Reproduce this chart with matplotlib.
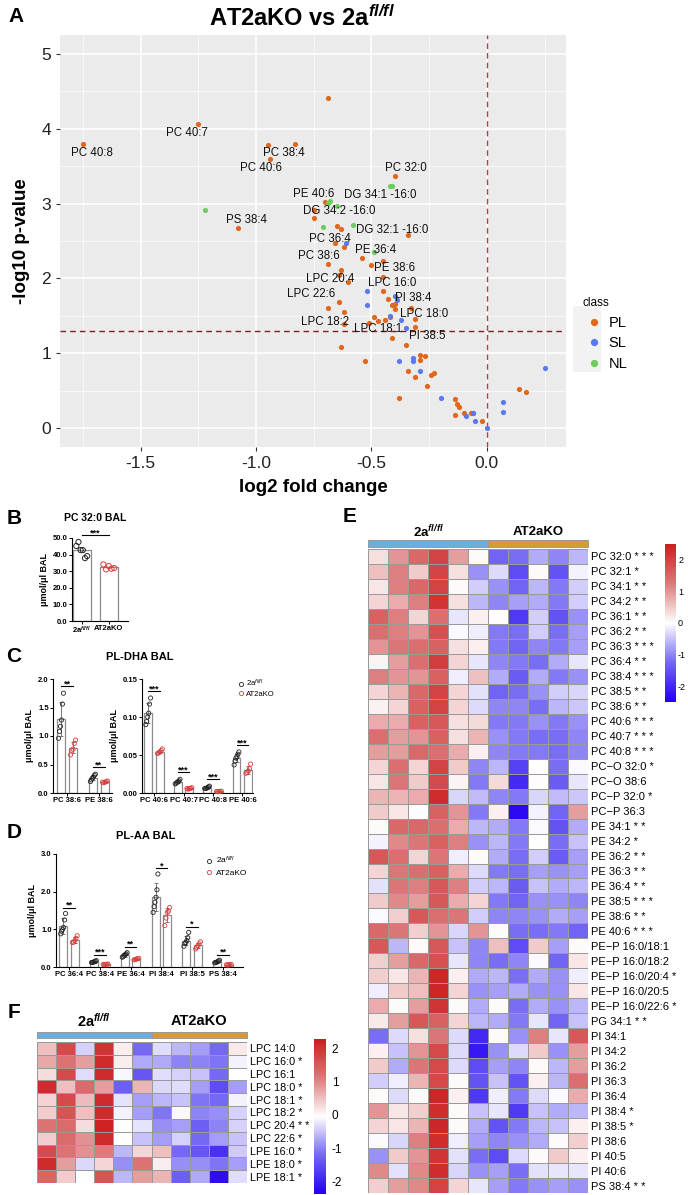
import numpy as np
import matplotlib
matplotlib.use('Agg')
import matplotlib.pyplot as plt
from matplotlib.colors import LinearSegmentedColormap, ListedColormap
from matplotlib.lines import Line2D
from matplotlib.patches import Rectangle

plt.rcParams['font.family'] = ['Liberation Sans', 'DejaVu Sans']
plt.rcParams['mathtext.fontset'] = 'custom'
plt.rcParams['mathtext.rm'] = 'Liberation Sans'
plt.rcParams['mathtext.it'] = 'Liberation Sans:italic'
plt.rcParams['mathtext.bf'] = 'Liberation Sans:bold'
plt.rcParams['mathtext.bfit'] = 'Liberation Sans:italic:bold'
plt.rcParams['axes.unicode_minus'] = False

# ---------------- volcano data (A) ----------------
pl_fc = [-0.69, -1.25, -1.75, -0.95, -0.83, -0.94, -0.40, -1.08, -0.70, -0.75,
         -0.75, -0.65, -0.63, -0.34, -0.66, -0.62, -0.54, -0.45, -0.69, -0.50,
         -0.63, -0.45, -0.64, -0.60, -0.45, -0.43, -0.64, -0.41, -0.40, -0.40,
         -0.33, -0.69, -0.62, -0.49, -0.42, -0.44, -0.47, -0.31, -0.31, -0.62,
         -0.51, -0.41, -0.35, -0.63, -0.53, -0.29, -0.27, -0.29, -0.34, -0.23,
         -0.24, -0.31, -0.26, -0.38, 0.14, 0.17, -0.14, -0.13, -0.12, -0.10,
         -0.14, -0.07, -0.06, -0.02]
pl_p = [4.41, 4.06, 3.79, 3.78, 3.80, 3.60, 3.37, 2.67, 3.02, 2.92,
        2.81, 2.70, 2.66, 2.58, 2.47, 2.42, 2.27, 2.23, 2.19, 2.18,
        2.11, 2.02, 2.05, 1.95, 1.83, 1.73, 1.69, 1.65, 1.66, 1.59,
        1.60, 1.60, 1.55, 1.48, 1.49, 1.45, 1.43, 1.46, 1.35, 1.39,
        1.40, 1.20, 1.11, 1.08, 0.90, 0.98, 0.97, 0.91, 0.76, 0.74,
        0.71, 0.68, 0.57, 0.40, 0.53, 0.48, 0.39, 0.32, 0.29, 0.20,
        0.18, 0.21, 0.21, 0.10]
sl_fc = [-0.61, -0.52, -0.52, -0.40, -0.39, -0.42, -0.37, -0.35, -0.38, -0.32,
         -0.32, -0.29, -0.20, 0.07, 0.07, -0.09, -0.06, -0.05, 0.00, 0.25]
sl_p = [2.47, 1.83, 1.64, 1.76, 1.71, 1.50, 1.45, 1.34, 0.90, 0.94,
        0.90, 0.76, 0.40, 0.35, 0.22, 0.16, 0.20, 0.10, 0.00, 0.81]
nl_fc = [-1.22, -0.69, -0.68, -0.65, -0.42, -0.41, -0.71, -0.58, -0.49]
nl_p = [2.91, 3.01, 3.03, 2.97, 3.23, 3.24, 2.69, 2.72, 2.35]

volcano_labels = ['PC 40:7', 'PC 40:8', 'PC 38:4', 'PC 40:6', 'PC 32:0', 'PE 40:6',
                  'DG 34:1 -16:0', 'DG 34:2 -16:0', 'PS 38:4', 'DG 32:1 -16:0',
                  'PC 36:4', 'PE 36:4', 'PC 38:6', 'PE 38:6', 'LPC 20:4', 'LPC 16:0',
                  'LPC 22:6', 'PI 38:4', 'LPC 18:0', 'LPC 18:2', 'LPC 18:1', 'PI 38:5']
label_x = [-1.30, -1.71, -0.88, -0.98, -0.35, -0.75, -0.46, -0.64, -1.04, -0.41,
           -0.68, -0.48, -0.73, -0.40, -0.68, -0.41, -0.76, -0.32, -0.27, -0.70,
           -0.47, -0.26]
label_y = [3.94, 3.67, 3.68, 3.48, 3.48, 3.13, 3.11, 2.90, 2.78, 2.65,
           2.53, 2.38, 2.30, 2.14, 1.99, 1.94, 1.79, 1.74, 1.53, 1.42,
           1.33, 1.23]

# ---------------- bar data (B, C, D) ----------------
pc320_wt = [45.2, 47.6, 42.7, 42.7, 37.9, 39.1]
pc320_ko = [34.1, 31.1, 33.1, 31.5, 31.9]

dha1_names = ['PC 38:6', 'PE 38:6']
dha1_wt = [[1.75, 1.56, 1.28, 1.17, 1.08, 0.96], [0.33, 0.31, 0.28, 0.26, 0.23, 0.20]]
dha1_ko = [[0.93, 0.87, 0.77, 0.75, 0.67], [0.21, 0.20, 0.19, 0.18, 0.19]]
dha1_sig = ['**', '**']

dha2_names = ['PC 40:6', 'PC 40:7', 'PC 40:8', 'PE 40:6']
dha2_wt = [[0.125, 0.117, 0.105, 0.100, 0.094, 0.090],
           [0.018, 0.016, 0.015, 0.014, 0.013, 0.012],
           [0.009, 0.008, 0.007, 0.0065, 0.006, 0.006],
           [0.054, 0.051, 0.048, 0.046, 0.042, 0.037]]
dha2_ko = [[0.058, 0.056, 0.054, 0.053, 0.052],
           [0.007, 0.006, 0.006, 0.005, 0.006],
           [0.0025, 0.002, 0.002, 0.0018, 0.002],
           [0.038, 0.032, 0.029, 0.027, 0.026]]
dha2_sig = ['***', '***', '***', '***']

aa_names = ['PC 36:4', 'PC 38:4', 'PE 36:4', 'PI 38:4', 'PI 38:5', 'PS 38:4']
aa_wt = [[1.42, 1.25, 1.05, 1.00, 0.95, 0.88], [0.17, 0.15, 0.14, 0.13, 0.12, 0.12],
         [0.38, 0.35, 0.33, 0.31, 0.28, 0.26], [2.47, 2.05, 1.85, 1.72, 1.60, 1.45],
         [0.92, 0.78, 0.70, 0.65, 0.62, 0.55], [0.18, 0.16, 0.14, 0.13, 0.12, 0.11]]
aa_ko = [[0.83, 0.76, 0.70, 0.66, 0.65], [0.08, 0.07, 0.07, 0.06, 0.07],
         [0.23, 0.22, 0.21, 0.20, 0.19], [1.58, 1.48, 1.45, 1.30, 1.10],
         [0.67, 0.62, 0.57, 0.52, 0.48], [0.07, 0.06, 0.06, 0.05, 0.06]]
aa_sig = ['**', '***', '**', '*', '*', '**']

# ---------------- heatmap data (E, F) ----------------
e_rows = ['PC 32:0 * * *', 'PC 32:1 *', 'PC 34:1 * *', 'PC 34:2 * *', 'PC 36:1 * *',
          'PC 36:2 * *', 'PC 36:3 * * *', 'PC 36:4 * *', 'PC 38:4 * * *', 'PC 38:5 * *',
          'PC 38:6 * *', 'PC 40:6 * * *', 'PC 40:7 * * *', 'PC 40:8 * * *', 'PC\u2212O 32:0 *',
          'PC\u2212O 38:6', 'PC\u2212P 32:0 *', 'PC\u2212P 36:3', 'PE 34:1 * *', 'PE 34:2 *',
          'PE 36:2 * *', 'PE 36:3 * *', 'PE 36:4 * *', 'PE 38:5 * * *', 'PE 38:6 * *',
          'PE 40:6 * * *', 'PE\u2212P 16:0/18:1', 'PE\u2212P 16:0/18:2', 'PE\u2212P 16:0/20:4 *',
          'PE\u2212P 16:0/20:5', 'PE\u2212P 16:0/22:6 *', 'PG 34:1 * *', 'PI 34:1', 'PI 34:2',
          'PI 36:2', 'PI 36:3', 'PI 36:4', 'PI 38:4 *', 'PI 38:5 *', 'PI 38:6', 'PI 40:5',
          'PI 40:6', 'PS 38:4 * *']
e_vals = [
    [0.3, 1.0, 1.5, 2.0, 0.9, 0.05, -1.3, -1.2, -0.7, -1.0, -0.6],
    [0.6, 1.2, 0.5, 2.0, 0.3, -0.9, -0.3, -1.6, 0.05, -1.5, -0.1],
    [0.25, 1.2, 1.5, 2.0, 0.05, -0.4, -0.9, -1.3, -0.6, -1.1, -0.4],
    [0.4, 0.8, 1.2, 2.2, 0.3, -0.6, -1.0, -0.8, -0.7, -1.1, -0.4],
    [1.6, 1.2, 0.4, 1.4, -0.2, 0.15, 0.02, -1.8, -0.4, -1.5, -0.9],
    [1.4, 1.2, 1.0, 1.8, -0.05, -0.15, -1.1, -1.2, -0.4, -1.2, -0.8],
    [1.0, 1.3, 1.4, 1.6, 0.3, 0.15, -1.1, -1.3, -1.0, -1.1, -0.8],
    [0.1, 0.9, 1.4, 2.1, 0.4, -0.2, -1.0, -1.1, -1.2, -0.7, -0.2],
    [1.2, 1.0, 1.0, 1.6, -0.15, 0.6, -0.7, -1.4, -0.7, -1.1, -0.9],
    [0.4, 0.7, 1.5, 2.0, 0.4, -0.25, -1.3, -1.2, -0.9, -0.4, -0.35],
    [0.12, 0.4, 1.6, 2.0, 0.4, -0.3, -1.0, -1.0, -1.2, -0.6, -0.45],
    [0.8, 0.8, 1.6, 1.7, 0.3, 0.35, -1.1, -1.1, -0.9, -1.1, -0.9],
    [1.4, 0.9, 1.0, 1.6, 0.3, 0.7, -0.9, -1.1, -1.2, -1.2, -1.0],
    [0.9, 0.9, 1.5, 1.4, 0.8, 0.15, -1.0, -1.1, -1.1, -1.2, -1.0],
    [0.4, 1.4, 0.4, 2.0, 0.5, -1.0, -0.6, -1.7, 0.0, -1.2, -0.05],
    [0.25, 1.3, 0.5, 1.9, 0.1, -1.1, 0.35, -2.0, 0.03, -1.4, -0.2],
    [0.7, 0.7, 0.8, 2.3, -0.35, -0.55, -1.0, -1.1, -0.35, -0.55, -0.45],
    [0.5, 0.25, 0.02, 1.6, 1.0, -1.1, 0.15, -2.4, -0.1, -1.3, 0.9],
    [0.05, 1.5, 1.5, 1.4, 0.8, -0.6, -0.7, -1.1, -0.05, -1.5, -0.7],
    [-0.1, 1.1, 1.3, 1.6, 1.2, -0.9, -0.6, -1.1, 0.0, -1.2, -0.5],
    [1.7, 1.4, 0.4, 1.3, -0.15, 0.05, -0.7, -1.2, -0.4, -1.4, -0.8],
    [0.4, 1.3, 1.4, 1.6, 0.8, -0.3, -1.1, -1.2, -0.8, -0.9, -0.8],
    [-0.25, 1.3, 1.2, 1.7, 1.2, -0.4, -0.6, -1.4, -0.5, -0.7, -0.6],
    [0.5, 1.1, 0.9, 1.7, 0.8, 0.4, -1.1, -1.3, -0.9, -0.9, -1.0],
    [-0.05, 0.45, 1.7, 1.4, 1.3, -0.4, -1.0, -1.0, -0.9, -0.7, -0.8],
    [1.5, 1.3, 0.45, 1.0, -0.35, 1.0, 0.05, -1.2, -1.2, -1.1, -1.3],
    [1.7, -0.6, 0.05, 1.7, -0.5, -1.0, 0.6, -1.6, 0.5, -0.8, 0.05],
    [0.45, 0.9, 1.5, 1.8, -0.2, -1.0, -1.2, -1.0, -0.05, -1.3, 0.25],
    [0.45, 0.25, 0.7, 2.4, 0.15, -0.7, -0.6, -1.2, -0.7, -0.9, -0.15],
    [-0.15, 0.5, 0.6, 2.4, 0.4, -0.9, -0.8, -0.7, -0.9, -0.9, 0.25],
    [0.8, 0.05, 0.9, 2.2, 0.05, -0.7, 0.05, -1.2, -0.7, -0.9, -0.6],
    [0.2, 0.9, 1.7, 1.6, 0.4, -0.6, -0.7, -1.1, -0.2, -1.3, -0.5],
    [-1.2, -0.3, 0.3, 1.3, -0.3, -2.0, 0.05, -0.9, 1.2, -0.2, 1.7],
    [0.15, -0.5, 1.0, 1.9, -0.3, -2.2, -0.9, -0.3, 0.5, -0.9, 0.9],
    [0.5, -0.7, 1.3, 1.9, -0.3, -1.6, -0.8, -1.0, 0.05, -0.6, 0.9],
    [-0.4, -0.15, 0.7, 1.9, 0.05, -1.5, -0.5, -1.5, 0.15, -0.6, 1.4],
    [0.05, -0.3, 0.05, 2.4, 0.15, -1.8, -0.15, -1.1, -0.3, -0.05, 0.8],
    [1.0, 0.25, 0.45, 2.3, 0.05, -0.5, -0.2, -1.8, -0.5, -0.7, -0.6],
    [0.4, 0.25, 0.7, 2.4, 0.05, -0.7, -1.5, -1.1, -0.6, -0.5, 0.15],
    [-0.05, -0.35, 1.2, 2.3, -0.15, -0.8, -1.0, -0.9, -0.7, 0.05, 0.45],
    [-0.9, 0.5, 1.0, 2.2, -0.25, -1.2, -1.6, -0.3, 0.05, 0.5, 0.15],
    [1.1, -0.25, 1.1, 2.3, -0.35, -0.9, -0.8, -1.2, -0.25, -0.2, -0.2],
    [0.45, 0.9, 1.1, 2.0, 0.4, -0.2, -0.8, -1.1, -0.9, -0.8, -0.9],
]

f_rows = ['LPC 14:0', 'LPC 16:0 *', 'LPC 16:1', 'LPC 18:0 *', 'LPC 18:1 *', 'LPC 18:2 *',
          'LPC 20:4 * *', 'LPC 22:6 *', 'LPE 16:0 *', 'LPE 18:0 *', 'LPE 18:1 *']
f_vals = [
    [0.5, 1.7, -0.4, 2.0, 0.1, -1.2, -0.3, -0.6, -0.8, -1.2, 0.15],
    [0.7, 1.2, 0.8, 2.1, 0.1, -0.7, -0.7, -1.0, -1.0, -1.1, -0.15],
    [0.25, 1.7, -0.3, 2.1, -0.1, -1.4, -0.3, -0.4, -0.5, -1.2, -0.05],
    [2.1, 0.5, 1.3, 0.8, -1.3, 0.6, -0.35, -0.3, -0.8, -1.5, -0.8],
    [0.35, 1.7, 0.55, 2.1, -0.25, -0.8, -0.6, -0.5, -1.1, -1.2, -0.15],
    [0.4, 1.6, 0.5, 2.1, -0.15, -0.8, -1.1, 0.02, -1.0, -0.9, -0.4],
    [1.2, 1.3, 0.25, 2.2, -0.05, -0.25, -0.9, -0.8, -1.3, -1.0, -0.4],
    [0.4, 1.3, 0.9, 2.1, -0.05, -0.5, -0.8, -0.4, -1.2, -0.8, -0.5],
    [1.7, 1.2, 0.9, 1.1, -0.6, 0.3, 0.5, -1.2, -1.4, -1.8, -0.45],
    [2.1, 0.8, -0.35, 0.3, -0.9, 1.2, 0.1, -0.9, -0.9, -1.1, -0.8],
    [1.4, 0.4, -0.05, 1.6, -0.6, 0.8, 0.6, -1.3, -0.7, -2.2, -0.3],
]
n_wt, n_ko = 6, 5

W, H = 688, 1195
fig = plt.figure(figsize=(W / 100, H / 100), dpi=100)


def px_axes(l, t, r, b):
    return fig.add_axes([l / W, 1 - b / H, (r - l) / W, (b - t) / H])


def ftext(x, y, s, **kw):
    fig.text(x / W, 1 - y / H, s, **kw)


RED = '#e03c3c'
heat_cmap = LinearSegmentedColormap.from_list(
    'bwr_p', ['#2400f2', '#7468f3', '#ffffff', '#dc7a7a', '#cc1f1f'])

# ---------------- A: volcano ----------------
ax = px_axes(60, 35, 566, 447)
ax.set_facecolor('#ebebeb')
ax.scatter(pl_fc, pl_p, s=14, color='#e0671b', lw=0, zorder=3)
ax.scatter(sl_fc, sl_p, s=14, color='#5a78ef', lw=0, zorder=3)
ax.scatter(nl_fc, nl_p, s=14, color='#6ccc5c', lw=0, zorder=3)
ax.axhline(-np.log10(0.05), color='#7d2020', ls=(0, (4, 3)), lw=1.0, zorder=2)
ax.axvline(0, color='#a8453d', ls=(0, (4, 3)), lw=1.0, zorder=2)
for name, x, y in zip(volcano_labels, label_x, label_y):
    ax.text(x, y, name, fontsize=8.3, ha='center', va='center', color='#111', zorder=4)
ax.set_xlim(-1.85, 0.343)
ax.set_ylim(-0.25, 5.25)
ax.set_xticks([-1.5, -1.0, -0.5, 0.0])
ax.set_xticks([-1.75, -1.25, -0.75, -0.25, 0.25], minor=True)
ax.set_yticks([0, 1, 2, 3, 4, 5])
ax.set_yticks([0.5, 1.5, 2.5, 3.5, 4.5], minor=True)
ax.grid(which='major', color='white', lw=1.1)
ax.grid(which='minor', color='white', lw=0.5)
ax.set_axisbelow(True)
ax.tick_params(which='major', length=3, color='#333', labelsize=12.5, labelcolor='#222')
ax.tick_params(which='minor', length=0)
for s in ax.spines.values():
    s.set_visible(False)
ax.set_xlabel('log2 fold change', fontsize=13.5, fontweight='bold', labelpad=6)
ax.set_ylabel('-log10 p-value', fontsize=13.5, fontweight='bold', labelpad=8)

handles = [Line2D([], [], marker='o', ls='', color=c, markersize=4.2)
           for c in ['#e0671b', '#5a78ef', '#6ccc5c']]
fig.patches.append(Rectangle((573 / W, 1 - 372 / H), 28 / W, 66 / H, transform=fig.transFigure,
                             facecolor='#f2f2f2', edgecolor='none', zorder=0))
fig.legend(handles, ['PL', 'SL', 'NL'], title='class', loc='upper left',
           bbox_to_anchor=(569 / W, 1 - 284 / H), frameon=False, fontsize=10.5,
           title_fontsize=8.5, handletextpad=0.2, labelspacing=0.45, handlelength=1.6,
           alignment='left')

ftext(302, 18, 'AT2aKO vs 2a$^{\\mathbfit{fl/fl}}$', fontsize=17, fontweight='bold',
      ha='center', va='center')

# ---------------- bar helpers ----------------


def bar_panel(ax, names, wt, ko, sig, ymax, off, width, pad):
    xs = np.arange(len(names))
    for i in range(len(names)):
        for vals, dx, col in ((wt[i], -off, '#222222'), (ko[i], off, RED)):
            m = np.mean(vals)
            sd = np.std(vals, ddof=1)
            ax.bar(xs[i] + dx, m, width, color='white', edgecolor='#8c8c8c', lw=0.9, zorder=1)
            ax.errorbar(xs[i] + dx, m, yerr=sd, color='#7a7a7a', capsize=1.6, lw=0.7,
                        capthick=0.7, zorder=2)
            jit = np.linspace(-0.3, 0.3, len(vals)) * width
            ax.scatter(xs[i] + dx + jit[::-1], vals, s=9, facecolors='none', edgecolors=col,
                       lw=0.6, zorder=3, clip_on=False)
        top = max(max(wt[i]), max(ko[i])) + pad * ymax
        ax.plot([xs[i] - off, xs[i] + off], [top, top], color='k', lw=0.8, clip_on=False)
        ax.text(xs[i], top, sig[i], ha='center', va='baseline', fontsize=6.5,
                fontweight='bold', clip_on=False)
    ax.set_xticks(xs)
    ax.set_xticklabels(names)


def style_bar_axes(ax, ymax, ticks, fmt, ylab=True):
    ax.set_ylim(0, ymax)
    ax.set_yticks(ticks)
    ax.set_yticklabels([fmt.format(t) for t in ticks])
    for s in ['top', 'right']:
        ax.spines[s].set_visible(False)
    for s in ['left', 'bottom']:
        ax.spines[s].set_linewidth(0.8)
    ax.tick_params(length=2, width=0.7, labelsize=5.5, pad=1)
    for lab in ax.get_xticklabels() + ax.get_yticklabels():
        lab.set_fontweight('bold')
    if ylab:
        ax.set_ylabel('\u03bcmol/\u03bcl BAL', fontsize=6.5, fontweight='bold', labelpad=3)


# ---------------- B ----------------
axb = px_axes(72, 538, 128, 621)
axb.bar([0, 1], [np.mean(pc320_wt), np.mean(pc320_ko)], 0.66, color='white',
        edgecolor='#8c8c8c', lw=0.9, zorder=1)
axb.scatter(np.linspace(-0.2, 0.2, len(pc320_wt)), pc320_wt, s=14, facecolors='none',
            edgecolors='#222', lw=0.7, zorder=3)
axb.scatter(1 + np.linspace(-0.2, 0.2, len(pc320_ko)), pc320_ko, s=14, facecolors='none',
            edgecolors=RED, lw=0.7, zorder=3)
btop = max(pc320_wt) + 0.08 * 50
axb.plot([0, 1], [btop, btop], color='k', lw=0.8, clip_on=False)
axb.text(0.5, btop, '***', ha='center', va='baseline', fontsize=6.5, fontweight='bold')
axb.set_xlim(-0.36, 1.71)
axb.set_xticks([0, 1])
axb.set_xticklabels(['2a$^{\\mathbfit{fl/fl}}$', 'AT2aKO'])
style_bar_axes(axb, 50, [0, 10, 20, 30, 40, 50], '{:.1f}')
ftext(95, 518, 'PC 32:0 BAL', fontsize=7.5, fontweight='bold', ha='center', va='center')

# ---------------- C ----------------
axc1 = px_axes(53, 679, 112, 793)
bar_panel(axc1, dha1_names, dha1_wt, dha1_ko, dha1_sig, 2.0, 0.19, 0.26, 0.06)
axc1.set_xlim(-0.44, 1.41)
style_bar_axes(axc1, 2.0, [0, 0.5, 1.0, 1.5, 2.0], '{:.1f}')

axc2 = px_axes(142, 679, 253, 793)
bar_panel(axc2, dha2_names, dha2_wt, dha2_ko, dha2_sig, 0.15, 0.2, 0.27, 0.06)
axc2.set_xlim(-0.41, 3.36)
style_bar_axes(axc2, 0.15, [0, 0.05, 0.10, 0.15], '{:.2f}')
ftext(140, 657, 'PL-DHA BAL', fontsize=8, fontweight='bold', ha='center', va='center')

leg_h = [Line2D([], [], marker='o', ls='', mfc='none', mec='#222', mew=0.6, markersize=3),
         Line2D([], [], marker='o', ls='', mfc='none', mec=RED, mew=0.6, markersize=3)]
axc2.legend(leg_h, ['2a$^{fl/fl}$', 'AT2aKO'], loc='upper left', bbox_to_anchor=(0.82, 1.04),
            frameon=False, fontsize=5.5, handletextpad=0.1, labelspacing=0.2, handlelength=1.2,
            borderaxespad=0)

# ---------------- D ----------------
axd = px_axes(56, 854, 243, 967)
bar_panel(axd, aa_names, aa_wt, aa_ko, aa_sig, 3.0, 0.19, 0.26, 0.05)
axd.set_xlim(-0.42, 5.65)
style_bar_axes(axd, 3.0, [0, 1.0, 2.0, 3.0], '{:.1f}')
ftext(146, 836, 'PL-AA BAL', fontsize=8, fontweight='bold', ha='center', va='center')
axd.legend(leg_h, ['2a$^{fl/fl}$', 'AT2aKO'], loc='upper left', bbox_to_anchor=(0.77, 1.02),
           frameon=False, fontsize=6, handletextpad=0.1, labelspacing=0.3, handlelength=1.4,
           borderaxespad=0)

# ---------------- heatmap helpers ----------------


def heatmap(ax, vals, rows, vmin, vmax, fs):
    ax.pcolormesh(np.array(vals), cmap=heat_cmap, vmin=vmin, vmax=vmax,
                  edgecolors='#9a9a9a', linewidth=0.7)
    ax.set_xlim(0, len(vals[0]))
    ax.set_ylim(len(vals), 0)
    ax.set_yticks(np.arange(len(rows)) + 0.5)
    ax.set_yticklabels(rows, fontsize=fs)
    ax.yaxis.tick_right()
    ax.tick_params(length=0, pad=2)
    ax.set_xticks([])
    for s in ax.spines.values():
        s.set_visible(False)


def annot_bar(ax):
    ax.pcolormesh(np.array([[0] * n_wt + [1] * n_ko]),
                  cmap=ListedColormap(['#6aaedb', '#d69d2b']), vmin=0, vmax=1)
    ax.axvline(n_wt, color='#9a9a9a', lw=0.7)
    ax.set_xticks([])
    ax.set_yticks([])
    for s in ax.spines.values():
        s.set_color('#9a9a9a')
        s.set_linewidth(0.7)


def color_bar(ax, vmin, vmax, fs, pad):
    grad = np.linspace(vmin, vmax, 256)[:, None]
    ax.imshow(grad, aspect='auto', cmap=heat_cmap, vmin=vmin, vmax=vmax, origin='lower',
              extent=[0, 1, vmin, vmax])
    ax.yaxis.tick_right()
    ax.set_yticks([-2, -1, 0, 1, 2])
    ax.set_xticks([])
    ax.tick_params(length=0, labelsize=fs, pad=pad)
    for s in ax.spines.values():
        s.set_visible(False)


# ---------------- E ----------------
axe = px_axes(368, 549, 588, 1193)
heatmap(axe, e_vals, e_rows, -2.5, 2.5, 8)
annot_bar(px_axes(368, 540, 588, 547))
color_bar(px_axes(665, 544, 676, 702), -2.5, 2.5, 6.5, 1.5)
ftext(428, 532, '2a$^{\\mathbfit{fl/fl}}$', fontsize=9.5, fontweight='bold', ha='center', va='center')
ftext(538, 532, 'AT2aKO', fontsize=9.5, fontweight='bold', ha='center', va='center')

# ---------------- F ----------------
axf = px_axes(37, 1042, 247, 1183)
heatmap(axf, f_vals, f_rows, -2.36, 2.27, 7.8)
annot_bar(px_axes(37, 1032, 247, 1038))
color_bar(px_axes(314, 1039, 326, 1194), -2.36, 2.27, 8.5, 4)
ftext(94, 1021, '2a$^{\\mathbfit{fl/fl}}$', fontsize=10.5, fontweight='bold', ha='center', va='center')
ftext(199, 1021, 'AT2aKO', fontsize=10.5, fontweight='bold', ha='center', va='center')

# ---------------- panel letters ----------------
for letter, x, y in [('A', 16, 16), ('B', 14, 518), ('C', 14, 657), ('D', 14, 832),
                     ('E', 350, 517), ('F', 14, 1013)]:
    ftext(x, y, letter, fontsize=15, fontweight='bold', ha='center', va='center')

fig.savefig('out.png', dpi=100)
